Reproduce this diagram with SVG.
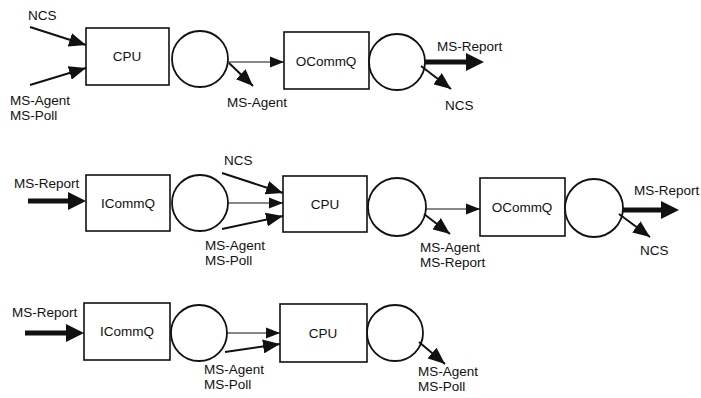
<svg xmlns="http://www.w3.org/2000/svg" width="701" height="398" viewBox="0 0 701 398">
<style>
text{font-family:"Liberation Sans",Arial,sans-serif;font-size:13.5px;fill:#111}
.box{fill:#fff;stroke:#111;stroke-width:1.6}
.srv{fill:#fff;stroke:#111;stroke-width:1.8}
.c{text-anchor:middle}
.thin{stroke:#111;stroke-width:1.2;fill:none;marker-end:url(#ahs)}
.mid{stroke:#111;stroke-width:2;fill:none;marker-end:url(#ahm)}
.thick{stroke:#111;stroke-width:5;fill:none;marker-end:url(#ahl)}
</style>
<defs>
<marker id="ahs" markerUnits="userSpaceOnUse" markerWidth="15" markerHeight="12" refX="14" refY="6" orient="auto"><path d="M0,0.5 L14,6 L0,11.5 Z" fill="#111"/></marker>
<marker id="ahm" markerUnits="userSpaceOnUse" markerWidth="18" markerHeight="14" refX="17" refY="7" orient="auto"><path d="M0,0 L17,7 L0,14 Z" fill="#111"/></marker>
<marker id="ahl" markerUnits="userSpaceOnUse" markerWidth="19" markerHeight="18" refX="0" refY="9" orient="auto"><path d="M0,0 L18,9 L0,18 Z" fill="#111"/></marker>
</defs>
<rect width="701" height="398" fill="#fff"/>

<g id="r1-cpu"><rect class="box" x="86" y="28" width="83" height="57"/><text class="c" x="127" y="61">CPU</text><circle class="srv" cx="200" cy="59" r="28"/></g>
<g id="r1-ocommq"><rect class="box" x="284" y="32" width="85" height="57"/><text class="c" x="326" y="66">OCommQ</text><circle class="srv" cx="397" cy="62" r="28"/></g>

<g id="r2-icommq"><rect class="box" x="86" y="175" width="84" height="56"/><text class="c" x="128" y="208">ICommQ</text><circle class="srv" cx="200" cy="203" r="28"/></g>
<g id="r2-cpu"><rect class="box" x="283" y="176" width="84" height="56"/><text class="c" x="325" y="209">CPU</text><circle class="srv" cx="397" cy="207" r="29"/></g>
<g id="r2-ocommq"><rect class="box" x="480" y="178" width="85" height="58"/><text class="c" x="522" y="212">OCommQ</text><circle class="srv" cx="594" cy="208" r="29"/></g>

<g id="r3-icommq"><rect class="box" x="84" y="303" width="86" height="57"/><text class="c" x="127" y="336">ICommQ</text><circle class="srv" cx="199" cy="333" r="28"/></g>
<g id="r3-cpu"><rect class="box" x="280" y="304" width="87" height="58"/><text class="c" x="323" y="338">CPU</text><circle class="srv" cx="395" cy="333" r="28"/></g>

<g id="connectors">
<!-- row 1 -->
<line class="mid" x1="30" y1="27" x2="86" y2="45"/>
<line class="mid" x1="30" y1="85" x2="86" y2="68"/>
<line class="thin" x1="228" y1="62" x2="284" y2="62"/>
<line class="mid" x1="229" y1="63" x2="253" y2="86"/>
<line class="thick" x1="425" y1="62" x2="466" y2="62"/>
<line class="mid" x1="421" y1="66" x2="451" y2="89"/>
<text x="28" y="20">NCS</text>
<text x="10" y="105">MS-Agent</text>
<text x="10" y="120">MS-Poll</text>
<text x="227" y="107">MS-Agent</text>
<text x="437" y="51">MS-Report</text>
<text x="445" y="110">NCS</text>
<!-- row 2 -->
<line class="thick" x1="28" y1="201" x2="68" y2="201"/>
<line class="mid" x1="222" y1="173" x2="283" y2="193"/>
<line class="thin" x1="228" y1="203" x2="283" y2="203"/>
<line class="mid" x1="222" y1="229" x2="283" y2="216"/>
<line class="thin" x1="426" y1="209" x2="480" y2="209"/>
<line class="mid" x1="424" y1="214" x2="450" y2="234"/>
<line class="thick" x1="623" y1="210" x2="661" y2="210"/>
<line class="mid" x1="619" y1="214" x2="650" y2="237"/>
<text x="14" y="188">MS-Report</text>
<text x="224" y="165">NCS</text>
<text x="205" y="250">MS-Agent</text>
<text x="205" y="265">MS-Poll</text>
<text x="420" y="252">MS-Agent</text>
<text x="420" y="267">MS-Report</text>
<text x="634" y="195">MS-Report</text>
<text x="640" y="255">NCS</text>
<!-- row 3 -->
<line class="thick" x1="25" y1="333" x2="66" y2="333"/>
<line class="thin" x1="227" y1="333" x2="280" y2="333"/>
<line class="mid" x1="225" y1="352" x2="280" y2="344"/>
<line class="mid" x1="419" y1="342" x2="445" y2="364"/>
<text x="12" y="317">MS-Report</text>
<text x="204" y="374">MS-Agent</text>
<text x="204" y="389">MS-Poll</text>
<text x="418" y="376">MS-Agent</text>
<text x="418" y="391">MS-Poll</text>
</g>
</svg>
